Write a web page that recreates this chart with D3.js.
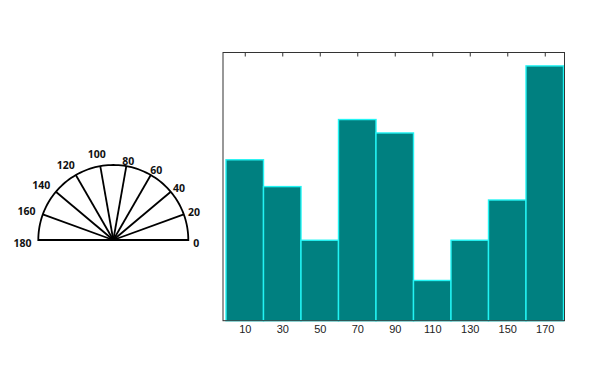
<!DOCTYPE html>
<html><head><meta charset="utf-8">
<script src="https://cdn.jsdelivr.net/npm/d3@7"></script>
<style>html,body{margin:0;padding:0;background:#fff;}</style>
</head><body>
<svg id="c" width="600" height="379"></svg>
<script>
const binCenters = [10, 30, 50, 70, 90, 110, 130, 150, 170];
const counts = [12, 10, 6, 15, 14, 3, 6, 9, 19];
const binWidth = 20;
const protractorAngles = [0, 20, 40, 60, 80, 100, 120, 140, 160, 180];

const svg = d3.select("#c");

// ---------- Histogram ----------
const frame = {left: 223, right: 564.5, top: 52.5, bottom: 320.7};
const x = d3.scaleLinear().domain([0, 180]).range([226, 563.5]);
const y = d3.scaleLinear().domain([0, 20]).range([frame.bottom, frame.top]);

const g = svg.append("g");
g.selectAll("rect.bar").data(binCenters).join("rect")
  .attr("class", "bar")
  .attr("x", d => x(d - binWidth / 2))
  .attr("width", d => x(d + binWidth / 2) - x(d - binWidth / 2))
  .attr("y", (d, i) => y(counts[i]))
  .attr("height", (d, i) => y(0) - y(counts[i]))
  .attr("fill", "#008080")
  .attr("stroke", "#22f4f4")
  .attr("stroke-width", 1.4);

// top ticks (inward)
const topAxis = d3.axisTop(x).tickValues(binCenters).tickSize(-4).tickFormat("");
g.append("g").attr("transform", `translate(0,${frame.top})`).call(topAxis)
  .call(a => a.select(".domain").remove())
  .call(a => a.selectAll("line").attr("stroke", "#333"));

// bottom axis labels
const botAxis = d3.axisBottom(x).tickValues(binCenters).tickSize(0).tickPadding(5);
g.append("g").attr("transform", `translate(0,${frame.bottom})`).call(botAxis)
  .call(a => a.select(".domain").remove())
  .call(a => a.selectAll("text").attr("font-family", "Liberation Sans, Arial, sans-serif")
     .attr("font-size", 11).attr("fill", "#222"));

// frame
g.append("rect")
  .attr("x", frame.left).attr("y", frame.top)
  .attr("width", frame.right - frame.left).attr("height", frame.bottom - frame.top)
  .attr("fill", "none").attr("stroke", "#333").attr("stroke-width", 1);

// ---------- Protractor ----------
const cx = 113.3, cy = 240, R = 75;
const rad = d3.scaleLinear().domain([0, 180]).range([0, Math.PI]);
const p = svg.append("g").attr("fill", "none").attr("stroke", "#000").attr("stroke-width", 1.8);
const arcPts = d3.range(0, 181, 2).map(a => [cx + R * Math.cos(rad(a)), cy - R * Math.sin(rad(a))]);
p.append("path").attr("d", d3.line()(arcPts) + "Z");
protractorAngles.filter(a => a > 0 && a < 180).forEach(a => {
  p.append("line").attr("x1", cx).attr("y1", cy)
    .attr("x2", cx + R * Math.cos(rad(a))).attr("y2", cy - R * Math.sin(rad(a)));
});
const lbl = svg.append("g").attr("font-family", "Noto Sans, Open Sans, sans-serif")
  .attr("font-weight", "bold").attr("font-size", 10.5).attr("fill", "#111");
protractorAngles.forEach(a => {
  const t = String(a);
  const w = t.length * 5.8;
  const c = Math.cos(rad(a)), s = Math.sin(rad(a));
  const r = 80 + (c < 0 ? 5 * s + 2 : 0);
  const lx = cx + r * c + c * w / 2;
  const ly = cy - r * s + (a === 0 || a === 180 ? 3 : 0);
  lbl.append("text").attr("x", lx).attr("y", ly).attr("dy", "0.35em")
    .attr("text-anchor", "middle").text(t);
});
</script>
</body></html>
